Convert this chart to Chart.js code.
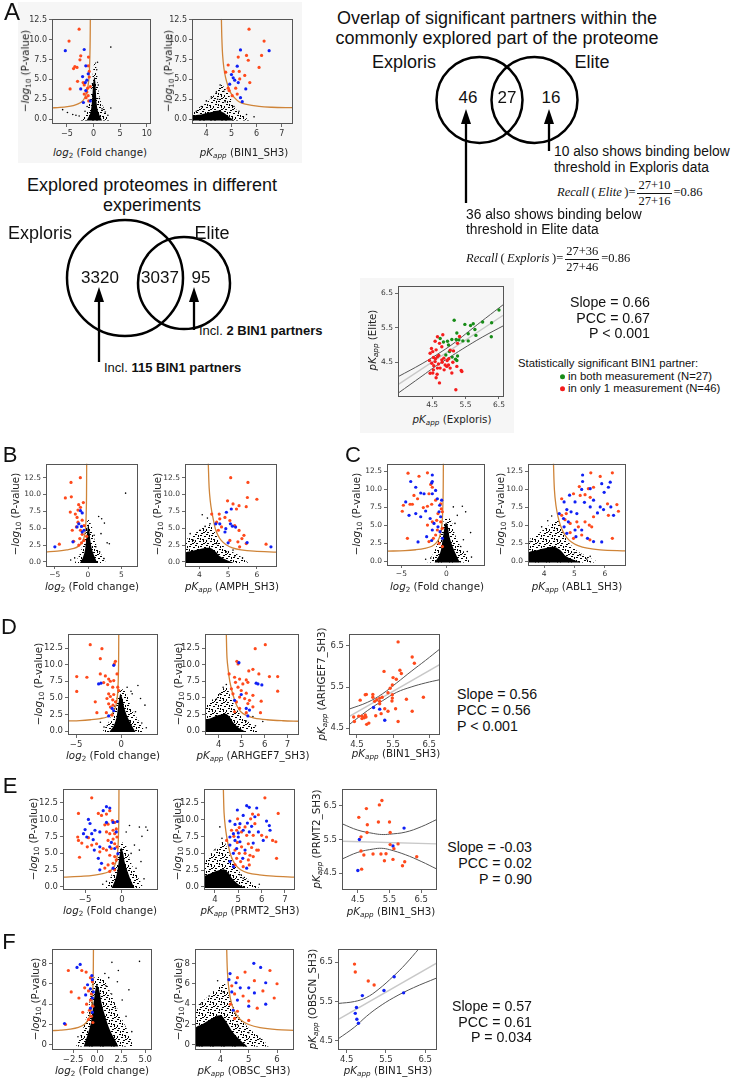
<!DOCTYPE html>
<html>
<head>
<meta charset="utf-8">
<script src="https://cdn.jsdelivr.net/npm/chart.js@4.4.0/dist/chart.umd.min.js"></script>
<style>
body { margin: 0; background: #fff; }
#fig { position: relative; width: 732px; height: 1088px; overflow: hidden; font-family: "Liberation Sans", Arial, sans-serif; color: #111; }
#fig canvas { position: absolute; }
.t { position: absolute; white-space: nowrap; line-height: 1; }
.m { font-family: "DejaVu Sans", sans-serif; color: #222; }
.s { font-family: "Liberation Serif", serif; }
.t sub { font-size: 70%; vertical-align: -0.3em; line-height: 0; }
.frac { display: inline-flex; flex-direction: column; vertical-align: middle; text-align: center; margin: 0 2px; }
.frac span:first-child { border-bottom: 1px solid #111; padding: 0 1px 1px; }
.frac span:last-child { padding-top: 1px; }
.dot { display: inline-block; width: 5px; height: 5px; border-radius: 50%; vertical-align: middle; margin: 0 3px 2px 0; }
.bg { position: absolute; background: #f6f6f6; }
</style>
</head>
<body>
<div id="fig"></div>
<script>
// ---------- shared ticks ----------
const volY = [0, 2.5, 5, 7.5, 10, 12.5];
const obscY = [0, 2, 4, 6, 8];
const corrTicks = [4.5, 5.5, 6.5];

// ---------- A: BIN1 ----------
const a1Orange = [[-2.7,11.3],[-4.6,9.8],[-2.4,7.95],[-2.55,7.45],[-3.5,6.6],[-3.75,6.35],[-3.1,6.5],[-0.95,7.8],[-1.0,6.7],[-0.8,6.0],[-3.0,4.75],[-1.95,4.6],[-1.75,4.3],[-4.4,3.8],[-1.1,3.9],[-1.25,3.4],[-1.0,2.95],[-1.4,2.7],[-0.9,2.3],[-1.75,3.15],[-0.8,5.3],[-0.6,4.1]];
const a1Blue = [[-5.3,8.6],[-1.75,8.75],[-1.45,6.7],[-2.05,5.35],[-1.25,4.9],[-2.4,3.8],[-1.55,4.6],[-1.0,5.7],[-1.9,2.1],[-0.6,2.3],[-1.45,3.6]];
const a1Black = [[3.25,9.05],[3.25,1.4],[0.75,7.15],[-5.8,1.2],[-4.9,0.85],[-3.9,0.6],[-2.7,0.4],[-3.3,0.5],[0.9,4.3],[1.1,2.6],[1.6,1.3],[2.2,0.9],[2.7,0.5],[-1.6,1.0],[-1.2,1.6],[0.6,6.2]];
const a1Core = [[-1.3,-0.15],[-0.9,0.3],[-0.55,0.9],[-0.35,1.8],[-0.2,3.0],[-0.1,4.2],[0.05,5.0],[0.2,5.3],[0.35,4.6],[0.45,3.4],[0.55,2.2],[0.8,1.1],[1.2,0.4],[1.6,-0.15]];
const a1Halo = [[-2.4,-0.15],[-1.6,0.6],[-0.9,1.8],[-0.5,3.5],[-0.2,5.2],[0.25,7.3],[0.7,5.6],[0.9,3.6],[1.5,2.0],[2.4,0.9],[3.0,-0.15]];
const a1Curve = [[-0.6,12.6],[-0.63,10],[-0.68,8],[-0.76,6.3],[-0.88,5.0],[-1.05,4.1],[-1.3,3.3],[-1.65,2.7],[-2.1,2.25],[-2.8,1.95],[-3.8,1.72],[-4.9,1.58],[-6.3,1.48],[-7.8,1.42]];

const a2Orange = [[5.7,11.3],[5.27,7.8],[4.87,6.8],[4.77,5.9],[5.07,6.0],[5.31,6.0],[5.6,8.0],[5.67,7.4],[5.53,5.5],[5.73,4.6],[5.33,5.05],[5.17,3.9],[5.03,2.95],[5.23,3.15],[4.91,3.6],[4.87,3.9],[6.3,9.8],[6.2,8.0],[6.1,6.5]];
const a2Blue = [[5.36,8.7],[5.23,6.65],[5.07,5.2],[5.27,4.6],[5.57,3.8],[5.36,2.7],[5.43,2.2],[4.93,4.4],[5.13,4.9],[5.0,5.6],[6.5,8.6]];
const a2Black = [[4.55,4.3],[4.7,3.5],[4.4,3.4],[4.2,2.8],[5.1,1.6],[5.3,1.0],[5.6,0.6],[5.9,0.3],[4.0,2.3],[3.8,1.6],[4.45,2.5],[4.75,2.2],[3.6,1.0]];
const a2Core = [[3.43,-0.15],[3.43,0.4],[3.8,0.6],[4.2,0.9],[4.5,1.1],[4.7,0.8],[4.9,0.3],[5.1,-0.15]];
const a2Halo = [[3.43,-0.15],[3.43,0.9],[3.9,1.8],[4.3,3.0],[4.6,4.3],[4.8,3.6],[5.0,2.4],[5.2,1.2],[5.5,0.4],[5.7,-0.15]];
const a2Curve = [[4.6,12.6],[4.62,10],[4.65,8],[4.7,6.4],[4.77,5.2],[4.86,4.2],[4.97,3.3],[5.12,2.7],[5.3,2.2],[5.55,1.9],[6.1,1.6],[6.6,1.5],[7.45,1.45]];

const a3Green = [[6.5,6.02],[6.28,5.65],[6.27,5.24],[6.01,5.67],[5.73,5.62],[5.65,5.57],[5.78,5.45],[5.58,5.33],[5.48,5.6],[5.24,5.35],[5.16,5.72],[5.22,5.16],[5.09,5.16],[4.99,5.0],[4.74,5.19],[4.84,5.09],[4.96,5.11],[5.02,4.81],[4.91,4.71],[5.2,4.59],[5.26,4.68],[5.81,5.28],[5.42,5.12],[5.58,5.12],[5.24,4.55],[5.3,5.15],[5.1,4.65]];
const a3Red = [[4.82,5.3],[4.66,5.24],[4.59,5.11],[4.79,4.95],[5.04,4.85],[5.14,4.83],[5.26,5.05],[4.52,4.81],[4.44,4.76],[4.54,4.64],[4.66,4.66],[4.59,4.52],[4.69,4.45],[4.79,4.57],[4.89,4.42],[4.99,4.42],[4.49,4.47],[4.54,4.28],[4.44,4.18],[4.66,4.33],[4.86,4.28],[5.04,4.33],[5.37,4.26],[4.62,4.86],[4.72,3.9],[4.94,4.38],[5.24,4.38],[4.74,4.33],[4.52,4.19],[5.09,4.19],[5.39,4.23],[5.21,3.7],[4.6,4.6],[4.7,4.7],[4.55,4.4],[4.8,4.5],[4.65,4.15],[5.0,4.6],[4.48,4.9],[4.72,5.05],[5.32,5.25],[4.95,4.55],[4.62,4.05],[4.85,4.62],[5.12,4.5],[4.42,4.55]];
const a3Fit = [[3.48,3.85],[6.65,5.88]];
const a3Upper = [[3.48,4.08],[4.2,4.46],[4.8,4.82],[5.2,5.09],[5.6,5.4],[6.1,5.78],[6.65,6.19]];
const a3Lower = [[3.48,3.6],[4.2,4.1],[4.6,4.38],[5.0,4.63],[5.4,4.88],[6.0,5.23],[6.65,5.57]];

const exploredCounts = [3320, 3037, 95];
const sigCounts = [46, 27, 16];

// ---------- B: AMPH ----------
const b1Orange = [[-1.15,12.5],[-2.55,11.8],[-3.4,9.5],[-2.5,9.66],[-0.7,8.8],[-1.4,8.5],[-1.13,8.1],[-1.5,7.7],[-2.66,7.4],[-1.9,7.1],[-1.64,6.6],[-0.87,6.2],[-1.5,5.9],[-1.74,5.2],[-0.6,5.4],[-1.13,4.7],[-0.87,4.1],[-1.23,3.46],[-0.6,3.2],[-0.97,2.83],[-1.38,2.5],[-4.3,2.63],[-2.15,3.07],[-2.36,4.7],[-0.2,3.8]];
const b1Blue = [[-1.13,7.6],[-0.87,7.27],[-1.38,5.66],[-0.97,5.27],[-0.6,4.7],[-0.87,4.44],[-2.26,2.98],[-4.97,2.24],[-1.64,5.2]];
const b1Black = [[5.64,10.2],[1.6,6.73],[2.05,6.4],[2.46,5.76],[2.87,2.83],[3.2,2.7],[0.92,3.95],[1.95,4.2],[1.18,2.24],[1.74,1.5],[-2.0,0.6],[-2.6,0.3],[2.4,0.5]];
const b1Core = [[-1.2,-0.15],[-0.8,0.6],[-0.5,1.5],[-0.3,3.0],[-0.12,4.5],[0.05,5.6],[0.22,4.6],[0.35,3.2],[0.6,1.9],[0.95,0.9],[1.4,-0.15]];
const b1Halo = [[-2.0,-0.15],[-1.3,1.0],[-0.8,2.6],[-0.4,4.5],[0.0,6.3],[0.6,5.2],[1.0,3.2],[1.6,1.8],[2.3,0.6],[2.7,-0.15]];
const b1Curve = [[-0.2,14.6],[-0.22,10],[-0.26,7.5],[-0.33,5.6],[-0.45,4.3],[-0.65,3.4],[-0.95,2.8],[-1.4,2.35],[-2.1,2.0],[-3.2,1.8],[-4.6,1.62],[-6.3,1.5]];

const b2Orange = [[5.09,12.5],[5.69,11.8],[5.67,9.56],[6.0,9.3],[4.98,9.07],[5.17,8.6],[5.38,8.34],[5.63,8.2],[5.29,7.85],[4.69,7.1],[4.89,6.6],[5.06,6.15],[4.71,6.4],[4.6,5.9],[4.77,5.2],[5.23,5.4],[5.38,4.68],[5.55,3.95],[5.48,3.46],[5.34,2.98],[5.06,3.2],[5.63,2.73],[6.32,2.63],[5.4,2.24],[4.43,7.1],[4.66,4.7]];
const b2Blue = [[5.11,7.85],[4.94,7.37],[5.08,5.66],[5.15,5.3],[4.71,5.66],[4.57,5.66],[4.92,4.93],[4.89,4.44],[5.26,5.17],[5.66,2.88],[6.49,2.24],[5.0,2.83]];
const b2Black = [[4.1,7.0],[4.28,6.5],[3.68,4.2],[4.02,4.7],[4.2,5.27],[4.37,5.66],[3.79,3.2],[4.6,2.73],[5.17,1.76],[5.5,0.6],[5.23,0.88],[4.94,1.5]];
const b2Core = [[3.5,-0.15],[3.5,1.3],[3.8,1.7],[4.1,2.0],[4.35,2.1],[4.55,1.6],[4.7,0.9],[4.95,0.3],[5.2,-0.15]];
const b2Halo = [[3.5,-0.15],[3.5,3.0],[3.8,4.1],[4.1,5.0],[4.35,5.5],[4.55,4.3],[4.72,2.9],[5.0,1.8],[5.4,0.9],[5.7,-0.15]];
const b2Curve = [[4.31,14.6],[4.34,11],[4.38,9],[4.43,7.5],[4.49,6.2],[4.55,5.0],[4.64,4.0],[4.76,3.2],[4.93,2.55],[5.15,2.1],[5.45,1.8],[5.9,1.6],[6.7,1.45]];

// ---------- C: ABL1 ----------
const c1Orange = [[-4.26,12.25],[-3.04,11.83],[-2.1,12.3],[-1.74,10.7],[-1.56,10.3],[-1.93,9.4],[-3.6,9.17],[-3.2,8.7],[-4.04,7.94],[-4.78,7.8],[-4.9,6.97],[-3.78,7.94],[-2.56,7.48],[-2.1,7.66],[-1.63,7.94],[-1.19,8.5],[-0.63,8.0],[-0.56,7.3],[-0.93,6.65],[-0.44,6.9],[-2.1,5.05],[-1.56,5.5],[-1.07,5.7],[-0.63,5.5],[-1.0,4.36],[-0.44,4.6],[-1.19,3.67],[-1.44,3.2],[-1.93,2.75],[-4.33,3.2],[-0.81,2.5],[-0.44,2.06]];
const c1Blue = [[-1.56,12.0],[-3.96,11.1],[-1.56,11.1],[-3.4,10.3],[-1.63,10.9],[-2.85,9.5],[-2.48,9.4],[-1.56,9.4],[-1.19,9.86],[-1.0,8.7],[-0.74,7.8],[-0.52,8.5],[-4.52,8.26],[-4.15,6.4],[-3.4,6.65],[-2.85,6.2],[-2.3,7.0],[-1.8,5.96],[-1.37,5.28],[-0.93,4.8],[-0.7,4.13],[-1.56,4.36],[-2.19,3.44],[-3.15,2.7],[-1.63,2.9],[-0.44,3.2],[-0.63,6.2],[-0.81,6.9]];
const c1Black = [[0.78,7.57],[1.78,7.66],[2.15,6.88],[1.22,6.4],[2.7,4.0],[1.6,2.06],[2.33,1.38],[-1.74,0.46],[0.96,5.28],[-2.3,0.3],[1.9,3.0],[2.8,0.6]];
const c1Core = [[-1.3,-0.15],[-0.85,0.7],[-0.6,1.6],[-0.42,3.0],[-0.25,4.4],[-0.05,5.4],[0.15,5.0],[0.32,3.6],[0.6,2.4],[0.95,1.3],[1.5,-0.15]];
const c1Halo = [[-2.1,-0.15],[-1.4,1.2],[-0.9,2.9],[-0.5,4.8],[-0.1,6.0],[0.5,5.8],[1.0,3.6],[1.6,2.0],[2.3,0.7],[2.6,-0.15]];
const c1Curve = [[-0.33,13.6],[-0.35,10],[-0.39,7.5],[-0.46,5.6],[-0.58,4.3],[-0.78,3.3],[-1.1,2.6],[-1.6,2.1],[-2.4,1.8],[-3.4,1.62],[-4.6,1.5],[-6.6,1.42]];

const c2Blue = [[5.27,12.0],[5.27,11.1],[6.18,11.0],[5.9,10.8],[6.12,10.3],[5.98,9.6],[5.52,10.1],[5.24,10.0],[4.84,9.2],[5.02,8.26],[4.66,8.26],[4.5,6.65],[4.75,7.2],[4.89,6.88],[5.08,6.65],[4.64,5.96],[4.8,5.5],[4.66,4.8],[5.02,4.36],[5.24,4.36],[4.75,3.9],[5.05,3.44],[5.43,3.2],[5.63,2.75],[5.9,2.7],[5.63,8.5],[5.52,7.57],[5.96,7.2],[5.76,6.74],[6.2,7.57],[6.29,6.4],[5.33,8.2],[5.85,7.57]];
const c2Orange = [[5.54,12.3],[5.85,11.8],[6.25,12.3],[5.16,10.4],[5.46,10.1],[5.63,10.3],[5.19,9.17],[5.35,9.27],[5.52,8.9],[4.58,8.7],[4.97,9.4],[6.09,8.0],[6.4,7.9],[6.45,6.97],[6.12,6.4],[4.58,6.4],[4.69,5.8],[4.86,5.28],[5.08,5.5],[5.35,5.5],[5.49,5.05],[5.57,4.8],[5.13,4.8],[4.86,4.0],[5.24,3.67],[4.97,3.2],[5.51,3.0],[6.25,3.2],[4.73,6.65],[5.63,6.2]];
const c2Black = [[4.25,6.3],[4.12,5.64],[3.92,4.8],[3.54,2.75],[5.41,0.32],[5.52,0.7],[5.0,1.2],[5.2,0.9]];
const c2Core = [[3.47,-0.15],[3.47,1.2],[3.8,1.6],[4.1,1.9],[4.35,2.0],[4.55,1.5],[4.7,0.8],[4.95,0.25],[5.2,-0.15]];
const c2Halo = [[3.47,-0.15],[3.47,2.8],[3.8,3.8],[4.15,5.0],[4.45,5.7],[4.6,4.2],[4.78,2.8],[5.05,1.6],[5.45,0.6],[5.8,-0.15]];
const c2Curve = [[4.31,13.6],[4.34,10],[4.39,7.8],[4.46,6.2],[4.54,5.0],[4.63,4.1],[4.74,3.35],[4.9,2.7],[5.12,2.2],[5.42,1.84],[5.85,1.6],[6.7,1.45]];

// ---------- D: ARHGEF7 ----------
const d1Orange = [[-3.43,13.0],[-2.13,12.4],[-2.31,10.9],[-0.63,10.5],[-0.75,10.1],[-4.93,8.2],[-3.8,8.1],[-2.31,8.6],[-1.75,8.3],[-1.38,7.83],[-1.19,7.5],[-0.82,7.6],[-0.45,8.6],[-1.94,7.3],[-1.49,7.0],[-0.93,6.6],[-4.93,5.96],[-1.38,5.6],[-0.82,5.5],[-1.19,5.2],[-1.57,4.9],[-0.93,4.7],[-0.63,4.4],[-2.87,4.4],[-1.38,4.1],[-0.9,3.9],[-1.19,3.6],[-1.64,2.76],[-2.69,2.76],[-1.0,2.4],[-0.26,6.1],[-0.37,6.6]];
const d1Blue = [[-0.82,9.9],[-2.5,7.1],[-2.24,7.2],[-1.0,3.4],[-0.82,3.05],[-1.38,2.27]];
const d1Black = [[1.87,6.85],[1.23,5.6],[2.16,4.9],[2.65,3.9],[1.6,2.9],[-2.3,1.33],[0.67,6.6],[1.1,6.0],[-1.9,0.6],[2.3,1.2],[2.8,0.5]];
const d1Core = [[-1.3,-0.15],[-0.85,0.7],[-0.55,1.8],[-0.38,3.2],[-0.25,4.5],[-0.08,5.6],[0.12,5.0],[0.32,3.7],[0.6,2.5],[1.0,1.3],[1.6,-0.15]];
const d1Halo = [[-2.1,-0.15],[-1.4,1.3],[-0.9,3.0],[-0.5,4.9],[-0.1,6.3],[0.5,6.0],[1.0,4.0],[1.6,2.3],[2.3,0.8],[2.6,-0.15]];
const d1Curve = [[-0.26,14.6],[-0.28,10],[-0.32,7.5],[-0.39,5.6],[-0.5,4.3],[-0.7,3.3],[-1.0,2.6],[-1.5,2.15],[-2.3,1.88],[-3.4,1.7],[-4.6,1.58],[-5.9,1.52]];

const d2Orange = [[5.59,12.4],[6.03,13.0],[4.79,10.5],[4.84,10.1],[5.49,9.3],[5.75,8.6],[6.21,8.2],[6.57,8.2],[4.45,8.6],[4.69,8.1],[4.91,7.83],[5.2,7.7],[4.73,7.34],[5.05,7.1],[5.27,7.34],[4.55,6.35],[4.84,6.6],[4.98,6.1],[4.62,5.6],[5.2,5.7],[5.49,5.37],[4.91,5.12],[5.13,4.88],[5.34,4.63],[4.77,4.38],[5.27,4.14],[5.85,4.5],[6.57,6.0],[5.49,3.64],[4.91,3.4],[4.69,2.9],[5.82,2.76],[5.2,2.76],[5.31,9.06]];
const d2Blue = [[4.88,10.3],[5.63,7.2],[5.71,7.1],[5.88,6.95],[4.98,5.5],[4.69,4.63],[5.2,3.4],[5.34,3.15],[5.27,2.27]];
const d2Black = [[4.33,7.0],[4.19,6.6],[5.49,2.17],[5.92,1.43],[4.05,5.6],[3.9,4.8],[5.2,1.5],[5.6,0.8]];
const d2Core = [[3.4,-0.15],[3.4,1.5],[3.7,2.0],[4.0,2.4],[4.3,2.6],[4.5,2.0],[4.65,1.2],[4.9,0.4],[5.2,-0.15]];
const d2Halo = [[3.4,-0.15],[3.45,3.6],[3.8,5.0],[4.1,6.2],[4.35,6.5],[4.55,4.8],[4.78,3.3],[5.05,2.0],[5.45,1.0],[5.8,-0.15]];
const d2Curve = [[4.33,14.6],[4.36,11],[4.42,9],[4.48,7.5],[4.57,6.1],[4.66,5.0],[4.79,3.8],[4.95,2.95],[5.2,2.35],[5.55,1.95],[6.1,1.7],[6.8,1.55],[7.5,1.47]];

const d3Orange = [[5.64,6.6],[6.03,6.23],[6.09,6.08],[5.25,5.88],[5.69,5.91],[5.73,5.83],[5.5,5.73],[5.59,5.69],[5.48,5.55],[5.42,5.47],[5.36,5.36],[5.48,5.31],[5.48,5.23],[5.47,5.16],[4.94,5.32],[4.94,5.25],[4.73,5.31],[5.13,5.23],[5.05,5.19],[4.99,5.15],[5.13,5.15],[5.13,5.09],[5.2,5.25],[5.87,5.2],[6.34,5.25],[5.57,4.97],[6.03,4.91],[5.27,4.97],[5.36,4.91],[5.17,4.85],[5.02,4.8],[4.75,4.77],[4.7,4.75],[4.77,4.59],[5.64,4.66],[4.64,4.79],[4.59,5.18],[4.76,5.32],[4.43,4.66],[4.55,4.79],[4.64,4.73],[4.73,4.82],[4.83,4.62],[4.41,4.77]];
const d3Blue = [[4.96,5.0],[5.13,4.96],[5.27,4.69]];
const d3Fit = [[4.28,4.78],[6.8,6.05]];
const d3Upper = [[4.28,4.96],[4.8,5.13],[5.2,5.33],[5.6,5.6],[6.0,5.88],[6.4,6.15],[6.8,6.43]];
const d3Lower = [[4.28,4.58],[4.8,4.93],[5.2,5.16],[5.6,5.37],[6.0,5.5],[6.4,5.6],[6.8,5.68]];

// ---------- E: PRMT2 ----------
const e1Orange = [[-4.1,13.2],[-5.9,10.9],[-3.2,10.9],[-2.77,10.6],[-2.1,10.8],[-1.65,11.3],[-1.3,9.85],[-2.32,9.2],[-1.88,9.3],[-0.98,9.56],[-0.76,8.6],[-1.2,8.4],[-2.1,8.15],[-1.65,7.9],[-0.98,7.9],[-0.67,7.4],[-1.2,7.1],[-1.88,6.9],[-0.98,6.4],[-0.67,5.95],[-1.43,5.7],[-2.1,5.46],[-2.54,5.7],[-3.0,5.2],[-1.65,4.7],[-0.98,4.5],[-0.76,4.0],[-1.2,3.5],[-1.88,3.27],[-2.32,2.8],[-0.98,2.54],[-1.65,2.3],[-5.9,6.9],[-5.45,6.5],[-6.0,7.4],[-5.76,4.4],[-4.1,6.2],[-3.44,6.4],[-4.7,5.95],[-4.55,7.3]];
const e1Blue = [[-2.1,11.9],[-1.65,11.7],[-2.54,11.3],[-4.55,10.0],[-4.33,9.4],[-5.0,8.5],[-5.22,7.9],[-3.66,8.4],[-3.0,8.15],[-4.77,7.4],[-3.9,7.0],[-2.1,9.56],[-1.2,9.56],[-0.62,9.7],[-0.76,8.15],[-1.43,6.6],[-3.0,5.95],[-3.75,5.46],[-1.65,5.95],[-3.2,4.24],[-2.77,3.5],[-3.0,2.54],[-1.2,2.78],[-0.54,4.93],[-4.1,7.9],[-0.98,5.7]];
const e1Black = [[1.03,9.1],[2.37,8.87],[3.26,8.87],[3.48,8.4],[2.72,7.5],[0.58,8.15],[1.7,6.2],[2.37,5.46],[1.25,4.97],[2.59,3.76],[1.92,2.78],[0.8,1.56],[-2.1,0.83],[-2.6,0.4],[3.0,1.2]];
const e1Core = [[-1.4,-0.15],[-1.0,0.8],[-0.7,1.9],[-0.48,3.4],[-0.3,4.7],[-0.1,5.8],[0.15,5.1],[0.38,3.7],[0.7,2.5],[1.1,1.3],[1.7,-0.15]];
const e1Halo = [[-2.4,-0.15],[-1.6,1.3],[-1.0,3.0],[-0.6,5.0],[-0.1,6.6],[0.6,6.0],[1.1,4.0],[1.8,2.2],[2.5,0.8],[2.9,-0.15]];
const e1Curve = [[-0.4,14.5],[-0.42,10],[-0.47,7.5],[-0.55,5.6],[-0.68,4.3],[-0.9,3.4],[-1.25,2.7],[-1.8,2.25],[-2.6,1.97],[-3.7,1.76],[-5.2,1.6],[-8,1.46]];

const e2Blue = [[5.36,12.05],[5.47,11.8],[5.79,11.7],[4.96,11.4],[5.21,10.6],[5.71,10.4],[4.64,9.76],[4.86,9.27],[5.07,9.37],[5.39,9.46],[5.57,8.98],[4.79,7.9],[4.64,7.4],[5.0,8.0],[5.21,8.4],[5.47,8.15],[5.86,8.15],[6.21,9.76],[6.33,9.1],[6.36,8.4],[4.86,6.9],[5.07,6.7],[4.64,6.2],[4.93,5.7],[5.29,5.46],[5.64,6.5],[6.07,6.9],[4.79,4.98],[5.19,4.24],[4.64,3.76],[5.36,2.78],[4.79,3.0],[5.0,7.4]];
const e2Orange = [[6.14,13.2],[5.61,10.8],[5.86,10.7],[5.53,10.1],[5.71,9.37],[4.97,10.1],[5.04,8.8],[5.29,8.9],[4.93,8.4],[5.14,8.15],[4.71,8.4],[4.81,7.5],[5.36,7.65],[5.64,7.65],[4.96,6.6],[5.14,5.95],[5.43,6.4],[5.57,5.85],[5.79,5.46],[6.21,7.4],[6.47,6.9],[6.61,6.7],[6.71,10.9],[6.64,4.24],[6.0,7.65],[4.86,5.46],[5.04,4.98],[5.29,4.98],[5.5,4.7],[4.93,4.24],[5.1,3.76],[5.43,4.0],[5.64,4.5],[4.86,3.27],[5.21,3.0],[5.47,3.27],[5.86,5.46],[4.5,6.9]];
const e2Black = [[4.21,8.9],[5.07,1.8],[5.21,1.3],[4.3,7.2],[4.0,5.5],[5.4,0.8],[5.9,0.4]];
const e2Core = [[3.53,-0.15],[3.53,1.5],[3.8,2.0],[4.1,2.4],[4.4,2.6],[4.6,2.0],[4.75,1.2],[5.0,0.4],[5.3,-0.15]];
const e2Halo = [[3.53,-0.15],[3.55,3.6],[3.9,5.2],[4.2,6.2],[4.38,6.8],[4.55,5.4],[4.8,3.5],[5.1,2.0],[5.5,0.9],[5.9,-0.15]];
const e2Curve = [[4.36,14.5],[4.39,11],[4.44,9],[4.5,7.5],[4.57,6.2],[4.65,5.0],[4.76,4.0],[4.9,3.2],[5.1,2.55],[5.4,2.1],[5.9,1.8],[6.5,1.6],[7.43,1.46]];

const e3Orange = [[5.26,6.66],[4.77,6.42],[5.18,6.53],[5.15,6.02],[5.5,6.02],[4.8,5.94],[4.79,5.71],[5.52,5.71],[5.52,5.35],[5.64,5.23],[5.77,5.37],[4.6,5.16],[4.69,5.04],[4.98,5.07],[5.23,5.07],[5.39,5.08],[5.34,4.87],[5.61,4.91],[5.98,4.84],[5.91,4.72],[6.36,4.99],[4.62,4.62],[4.53,6.16],[4.6,5.58]];
const e3Blue = [[4.55,5.5],[5.61,5.31],[5.96,5.84],[4.5,4.58]];
const e3Fit = [[4.0,5.45],[7.0,5.37]];
const e3Upper = [[4.0,5.97],[4.5,5.78],[5.0,5.68],[5.25,5.65],[5.5,5.66],[6.0,5.72],[6.5,5.88],[7.0,6.1]];
const e3Lower = [[4.0,4.92],[4.5,5.12],[5.0,5.22],[5.25,5.24],[5.5,5.2],[6.0,5.05],[6.5,4.85],[7.0,4.62]];

// ---------- F: OBSC ----------
const f1Orange = [[-3.0,7.3],[-1.6,7.3],[-1.15,7.15],[-0.7,6.6],[-0.5,6.2],[-1.3,5.6],[-0.9,5.3],[-0.6,5.0],[-1.9,4.6],[-0.7,4.4],[-1.1,4.0],[-0.45,3.8],[-0.8,3.4],[-1.5,3.2],[-0.6,2.8],[-0.9,2.5],[-2.7,5.2],[-0.45,2.2],[-3.3,2.0]];
const f1Blue = [[-2.1,7.6],[-1.77,7.9],[-0.55,6.8],[-0.5,6.4],[-1.0,5.9],[-0.7,5.5],[-0.4,5.2],[-1.2,4.9],[-0.5,4.6],[-0.7,3.6],[-3.4,2.1],[-0.5,3.2]];
const f1Black = [[1.53,8.1],[4.4,8.2],[0.8,7.0],[1.2,6.6],[2.1,6.2],[3.3,5.4],[1.5,5.0],[2.6,4.4],[1.9,3.6],[3.0,2.8],[0.9,5.8],[2.2,7.3],[-2.0,0.8],[3.6,1.3]];
const f1Core = [[-1.4,-0.15],[-1.0,1.0],[-0.65,2.2],[-0.45,3.6],[-0.28,4.8],[-0.05,5.9],[0.2,5.4],[0.45,4.1],[0.8,2.9],[1.3,1.5],[1.9,0.4],[2.2,-0.15]];
const f1Halo = [[-2.2,-0.15],[-1.5,1.5],[-0.9,3.6],[-0.3,6.6],[0.7,6.4],[1.6,4.6],[2.6,2.5],[3.4,0.9],[3.7,-0.15]];
const f1Curve = [[-0.39,9.4],[-0.41,7],[-0.46,5.2],[-0.55,4.0],[-0.7,3.1],[-0.95,2.45],[-1.35,2.0],[-1.95,1.72],[-2.8,1.55],[-3.8,1.45],[-4.7,1.4]];

const f2Orange = [[4.87,7.15],[5.75,7.3],[4.6,6.6],[4.4,5.8],[5.2,6.3],[4.5,5.0],[4.8,4.8],[5.0,4.3],[4.35,4.0],[5.5,5.3],[5.9,4.6],[4.6,3.3],[5.3,3.6],[4.5,2.6],[6.0,6.0],[5.0,2.4]];
const f2Blue = [[5.18,8.0],[5.42,7.6],[4.34,7.0],[4.3,6.4],[4.55,6.1],[4.7,5.6],[5.0,5.6],[4.4,5.2],[5.2,5.1],[5.6,6.1],[4.6,4.4],[5.0,3.8],[4.45,3.4],[5.6,4.0]];
const f2Black = [[3.9,6.3],[4.1,5.2],[3.6,4.8],[4.6,2.0],[5.0,1.2],[5.4,0.6],[3.3,4.0]];
const f2Core = [[3.1,-0.15],[3.1,1.6],[3.4,2.1],[3.7,2.6],[4.0,2.9],[4.2,2.3],[4.4,1.4],[4.65,0.6],[4.95,-0.15]];
const f2Halo = [[3.1,-0.15],[3.1,3.4],[3.5,4.6],[3.9,5.6],[4.15,6.0],[4.35,4.4],[4.7,2.6],[5.1,1.4],[5.5,0.5],[5.7,-0.15]];
const f2Curve = [[4.22,9.4],[4.25,7],[4.31,5.2],[4.4,4.0],[4.53,3.1],[4.72,2.45],[5.0,2.0],[5.4,1.7],[6.0,1.5],[6.6,1.42]];

const f3Orange = [[4.7,6.45],[4.72,6.25],[5.05,6.02],[5.2,5.92]];
const f3Blue = [[5.71,6.13],[5.45,5.78],[4.9,5.65],[4.75,5.35],[4.72,5.2],[4.76,5.05],[4.8,4.95],[5.95,5.72]];
const f3Fit = [[4.28,5.04],[6.8,6.48]];
const f3Upper = [[4.28,5.45],[4.7,5.5],[5.0,5.6],[5.3,5.8],[5.7,6.15],[6.0,6.45],[6.35,6.85]];
const f3Lower = [[4.28,4.55],[4.7,4.85],[5.0,5.12],[5.3,5.35],[5.7,5.6],[6.2,5.85],[6.8,6.1]];

// ---------- drawing ----------
const ORANGE = '#ff4a1c', BLUE = '#1020f5', CURVE = '#cf8438', GREEN = '#178c17', RED = '#f51d1d';
const PL = 34, PT = 6, PR = 10, PB = 16;
const fig = document.getElementById('fig');

const pts = a => a.map(p => ({x: p[0], y: p[1]}));
const neg = v => (v < 0 ? '\u2212' : '') + Math.abs(v);
const fix1 = v => (v < 0 ? '\u2212' : '') + Math.abs(v).toFixed(1);

// irregular speckle tile for the thinner part of the background cloud
const tile = document.createElement('canvas');
tile.width = 11; tile.height = 11;
(function () {
    const g = tile.getContext('2d');
    g.fillStyle = '#000';
    [[0,0],[5,1],[9,2],[2,4],[7,5],[4,7],[10,8],[1,9],[6,10],[8,9]].forEach(p => g.fillRect(p[0], p[1], 2, 1));
    [[3,1],[8,6],[0,6],[5,4]].forEach(p => g.fillRect(p[0], p[1], 1, 2));
})();
const speckle = c => c.chart.ctx.createPattern(tile, 'repeat');

const frame = {
    id: 'frame',
    afterDatasetsDraw(chart) {
        const a = chart.chartArea, g = chart.ctx;
        g.save();
        g.strokeStyle = '#555';
        g.lineWidth = 1;
        g.strokeRect(Math.round(a.left) + 0.5, Math.round(a.top) + 0.5, Math.round(a.right - a.left) - 1, Math.round(a.bottom - a.top) - 1);
        g.restore();
    }
};

function dots(arr, color, r, order) {
    return {data: pts(arr), backgroundColor: color, borderWidth: 0, pointRadius: r, order};
}
function line(arr, color, w, order, tension) {
    return {type: 'line', data: pts(arr), borderColor: color, borderWidth: w, pointRadius: 0, fill: false, tension: tension || 0, order};
}
function area(arr, bg, order) {
    return {type: 'line', data: pts(arr), borderColor: 'rgba(0,0,0,0)', borderWidth: 0, pointRadius: 0, fill: 'shape', backgroundColor: bg, tension: 0.3, order};
}

function makeChart(box, xr, yr, xt, yt, fx, fy, fs, datasets) {
    const [bx, by, bw, bh] = box;
    const w = bw + PL + PR, h = bh + PT + PB;
    const cv = document.createElement('canvas');
    cv.width = w; cv.height = h;
    cv.style.left = (bx - PL) + 'px';
    cv.style.top = (by - PT) + 'px';
    cv.style.width = w + 'px';
    cv.style.height = h + 'px';
    fig.appendChild(cv);

    const axis = (r, t, f, fit) => ({
        type: 'linear', min: r[0], max: r[1],
        afterBuildTicks: s => { s.ticks = t.map(v => ({value: v})); },
        afterFit: fit,
        border: {display: false},
        grid: {drawOnChartArea: false, tickLength: 3, tickColor: '#444', lineWidth: 0.8},
        ticks: {padding: 2, color: '#333', font: {family: 'DejaVu Sans', size: fs}, autoSkip: false, maxRotation: 0, callback: v => f(v)}
    });

    new Chart(cv, {
        type: 'scatter',
        data: {datasets},
        options: {
            responsive: false,
            animation: false,
            devicePixelRatio: 1,
            events: [],
            layout: {padding: {top: PT, right: PR, left: 0, bottom: 0}},
            plugins: {legend: {display: false}, tooltip: {enabled: false}},
            scales: {
                x: axis(xr, xt, fx, s => { s.height = PB; }),
                y: axis(yr, yt, fy, s => { s.width = PL; })
            }
        },
        plugins: [frame]
    });
}

function volcano(box, xr, yr, xt, yt, fx, fy, fs, d) {
    makeChart(box, xr, yr, xt, yt, fx, fy, fs, [
        dots(d.blue, BLUE, 1.6, 0),
        dots(d.orange, ORANGE, 1.6, 1),
        line(d.curve, CURVE, 1.3, 2, 0.35),
        dots(d.black, '#000', 0.8, 3),
        area(d.core, '#000', 4),
        area(d.halo, speckle, 5)
    ]);
}

function corr(box, xr, yr, fs, d) {
    makeChart(box, xr, yr, corrTicks, corrTicks, fix1, fix1, fs, [
        dots(d.a, d.ca, 1.7, 0),
        dots(d.b, d.cb, 1.7, 1),
        line(d.upper, '#555', 1, 2, 0.4),
        line(d.lower, '#555', 1, 2, 0.4),
        line(d.fit, '#c8c8c8', 1.4, 3)
    ]);
}

function label(html, x, y, size, opt) {
    opt = opt || {};
    const el = document.createElement('div');
    el.className = 't' + (opt.cls ? ' ' + opt.cls : '');
    el.innerHTML = html;
    el.style.left = x + 'px';
    el.style.top = y + 'px';
    el.style.fontSize = size + 'px';
    const ax = {l: '0', c: '-50%', r: '-100%'}[opt.align || 'c'];
    el.style.transform = 'translate(' + ax + ',-50%)' + (opt.rot ? ' rotate(-90deg)' : '');
    fig.appendChild(el);
}

function bgRect(x, y, w, h) {
    const el = document.createElement('div');
    el.className = 'bg';
    Object.assign(el.style, {left: x + 'px', top: y + 'px', width: w + 'px', height: h + 'px'});
    fig.appendChild(el);
}

bgRect(18, 2, 284, 161);
bgRect(360, 278, 154, 155);

// Venn outlines and arrows
fig.insertAdjacentHTML('beforeend', `
<svg width="732" height="1088" style="position:absolute;left:0;top:0">
  <g fill="none" stroke="#000" stroke-width="2.5">
    <circle cx="479.5" cy="100" r="43"/>
    <circle cx="534.5" cy="100" r="43"/>
    <circle cx="125" cy="278" r="58"/>
    <circle cx="184" cy="283" r="46"/>
  </g>
  <g stroke="#000" stroke-width="2.3">
    <line x1="466" y1="122" x2="466" y2="203"/>
    <line x1="549" y1="122" x2="549" y2="151"/>
    <line x1="99" y1="300" x2="99" y2="362"/>
    <line x1="194" y1="300" x2="194" y2="330"/>
  </g>
  <g fill="#000">
    <polygon points="466,109 461,124 471,124"/>
    <polygon points="549,109 544,124 554,124"/>
    <polygon points="99,287 94,302 104,302"/>
    <polygon points="194,287 189,302 199,302"/>
  </g>
</svg>`);

const nlog = '&minus;<i>log</i><sub>10</sub> (P-value)';
const lfc = '<i>log</i><sub>2</sub> (Fold change)';
const pk = s => '<i>pK</i><sub><i>app</i></sub> (' + s + ')';

// A
volcano([52, 18, 99, 106], [-7.8, 10.8], [-0.6, 12.6], [-5, 0, 5, 10], volY, neg, fix1, 8,
    {orange: a1Orange, blue: a1Blue, black: a1Black, core: a1Core, halo: a1Halo, curve: a1Curve});
volcano([192, 18, 101, 106], [3.43, 7.45], [-0.6, 12.6], [4, 5, 6, 7], volY, String, fix1, 8,
    {orange: a2Orange, blue: a2Blue, black: a2Black, core: a2Core, halo: a2Halo, curve: a2Curve});
corr([398, 285, 106, 111], [3.48, 6.65], [3.52, 6.73], 7.5,
    {a: a3Red, ca: RED, b: a3Green, cb: GREEN, fit: a3Fit, upper: a3Upper, lower: a3Lower});

// B
volcano([46, 463, 92, 103], [-6.3, 7.5], [-0.6, 14.6], [-5, 0, 5], volY, neg, fix1, 7.5,
    {orange: b1Orange, blue: b1Blue, black: b1Black, core: b1Core, halo: b1Halo, curve: b1Curve});
volcano([185, 463, 92, 103], [3.5, 6.7], [-0.6, 14.6], [4, 5, 6], volY, String, fix1, 7.5,
    {orange: b2Orange, blue: b2Blue, black: b2Black, core: b2Core, halo: b2Halo, curve: b2Curve});

// C
volcano([387, 463, 98, 102], [-6.6, 4.3], [-0.5, 13.6], [-5, 0], volY, neg, fix1, 7.5,
    {orange: c1Orange, blue: c1Blue, black: c1Black, core: c1Core, halo: c1Halo, curve: c1Curve});
volcano([528, 463, 98, 102], [3.47, 6.7], [-0.5, 13.6], [4, 5, 6], volY, String, fix1, 7.5,
    {orange: c2Orange, blue: c2Blue, black: c2Black, core: c2Core, halo: c2Halo, curve: c2Curve});

// D
volcano([68, 633, 90, 102], [-5.9, 4.1], [-0.6, 14.6], [-5, 0], volY, neg, fix1, 8.5,
    {orange: d1Orange, blue: d1Blue, black: d1Black, core: d1Core, halo: d1Halo, curve: d1Curve});
volcano([205, 633, 94, 102], [3.4, 7.5], [-0.6, 14.6], [4, 5, 6, 7], volY, String, fix1, 8.5,
    {orange: d2Orange, blue: d2Blue, black: d2Black, core: d2Core, halo: d2Halo, curve: d2Curve});
corr([349, 633, 91, 102], [4.28, 6.8], [4.33, 6.79], 8.5,
    {a: d3Orange, ca: ORANGE, b: d3Blue, cb: BLUE, fit: d3Fit, upper: d3Upper, lower: d3Lower});

// E
volcano([63, 788, 95, 102], [-8, 4.9], [-0.45, 14.5], [-5, 0], volY, neg, fix1, 8.5,
    {orange: e1Orange, blue: e1Blue, black: e1Black, core: e1Core, halo: e1Halo, curve: e1Curve});
volcano([204, 788, 91, 102], [3.53, 7.43], [-0.45, 14.5], [4, 5, 6, 7], volY, String, fix1, 8.5,
    {orange: e2Orange, blue: e2Blue, black: e2Black, core: e2Core, halo: e2Halo, curve: e2Curve});
corr([342, 788, 95, 102], [4.0, 7.0], [4.0, 7.0], 8.5,
    {a: e3Orange, ca: ORANGE, b: e3Blue, cb: BLUE, fit: e3Fit, upper: e3Upper, lower: e3Lower});

// F
volcano([52, 948, 100, 102], [-4.7, 5.7], [-0.5, 9.4], [-2.5, 0, 2.5, 5], obscY, fix1, String, 8.5,
    {orange: f1Orange, blue: f1Blue, black: f1Black, core: f1Core, halo: f1Halo, curve: f1Curve});
volcano([195, 948, 99, 102], [3.1, 6.6], [-0.5, 9.4], [4, 5, 6], obscY, String, String, 8.5,
    {orange: f2Orange, blue: f2Blue, black: f2Black, core: f2Core, halo: f2Halo, curve: f2Curve});
corr([338, 948, 99, 102], [4.28, 6.8], [4.27, 6.83], 8.5,
    {a: f3Orange, ca: ORANGE, b: f3Blue, cb: BLUE, fit: f3Fit, upper: f3Upper, lower: f3Lower});

// ---------- text ----------
const M = {cls: 'm'}, MR = {cls: 'm', rot: true};

// panel letters
label('A', 12, 12, 24);
label('B', 10, 455, 22);
label('C', 353, 455, 22);
label('D', 9, 627, 22);
label('E', 10, 786, 22);
label('F', 9, 942, 22);

// axis titles
label(nlog, 25, 71, 10.3, MR);       label(lfc, 100, 152, 10.3, M);
label(nlog, 168, 71, 10.3, MR);      label(pk('BIN1_SH3'), 244, 152, 10.3, M);
label(pk('Elite'), 372, 340, 10.3, MR); label(pk('Exploris'), 452, 419, 10.3, M);

label(nlog, 15, 514, 10.3, MR);      label(lfc, 92, 586, 10.3, M);
label(nlog, 157, 514, 10.3, MR);     label(pk('AMPH_SH3'), 232, 586, 10.3, M);
label(nlog, 356, 514, 10.3, MR);     label(lfc, 437, 586, 10.3, M);
label(nlog, 500, 514, 10.3, MR);     label(pk('ABL1_SH3'), 577, 586, 10.3, M);

label(nlog, 38, 684, 10.3, MR);      label(lfc, 113, 755, 10.3, M);
label(nlog, 178, 684, 10.3, MR);     label(pk('ARHGEF7_SH3'), 253, 755, 10.3, M);
label(pk('ARHGEF7_SH3'), 321, 684, 10.3, MR); label(pk('BIN1_SH3'), 396, 753, 10.3, M);

label(nlog, 33, 839, 10.3, MR);      label(lfc, 110, 910, 10.3, M);
label(nlog, 177, 839, 10.3, MR);     label(pk('PRMT2_SH3'), 250, 910, 10.3, M);
label(pk('PRMT2_SH3'), 316, 839, 10.3, MR); label(pk('BIN1_SH3'), 391, 911, 10.3, M);

label(nlog, 35, 999, 10.3, MR);      label(lfc, 102, 1070, 10.3, M);
label(nlog, 178, 999, 10.3, MR);     label(pk('OBSC_SH3'), 244, 1070, 10.3, M);
label(pk('OBSCN_SH3'), 312, 999, 10.3, MR); label(pk('BIN1_SH3'), 388, 1070, 10.3, M);

// top-right Venn
label('Overlap of significant partners within the', 497, 18, 18);
label('commonly explored part of the proteome', 497, 38, 18);
label('Exploris', 404, 62, 18);
label('Elite', 592, 62, 18);
label(String(sigCounts[0]), 468, 97, 17);
label(String(sigCounts[1]), 507, 97, 17);
label(String(sigCounts[2]), 551, 97, 17);
label('10 also shows binding below', 554, 152, 13.8, {align: 'l'});
label('threshold in Exploris data', 554, 168, 13.8, {align: 'l'});
label('<i>Recall</i>&thinsp;(&thinsp;<i>Elite</i>&thinsp;)=<span class="frac"><span>27+10</span><span>27+16</span></span>=0.86', 557, 193, 12.5, {align: 'l', cls: 's'});
label('36 also shows binding below', 466, 215, 13.8, {align: 'l'});
label('threshold in Elite data', 466, 230, 13.8, {align: 'l'});
label('<i>Recall</i>&thinsp;(&thinsp;<i>Exploris</i>&thinsp;)=<span class="frac"><span>27+36</span><span>27+46</span></span>=0.86', 466, 259, 12.5, {align: 'l', cls: 's'});

// left Venn
label('Explored proteomes in different', 152, 185, 18);
label('experiments', 152, 205, 18);
label('Exploris', 40, 233, 18);
label('Elite', 212, 233, 18);
label(String(exploredCounts[0]), 100, 277, 17);
label(String(exploredCounts[1]), 160, 277, 17);
label(String(exploredCounts[2]), 201, 277, 17);
label('Incl. <b>2 BIN1 partners</b>', 199, 330, 13, {align: 'l'});
label('Incl. <b>115 BIN1 partners</b>', 104, 367, 13, {align: 'l'});

// statistics
label('Slope = 0.66', 650, 302, 14.2, {align: 'r'});
label('PCC = 0.67', 650, 318, 14.2, {align: 'r'});
label('P &lt; 0.001', 650, 333, 14.2, {align: 'r'});
label('Statistically significant BIN1 partner:', 518, 364, 11.3, {align: 'l'});
label('<span class="dot" style="background:' + GREEN + '"></span>in both measurement (N=27)', 560, 377, 11.3, {align: 'l'});
label('<span class="dot" style="background:' + RED + '"></span>in only 1 measurement (N=46)', 560, 389, 11.3, {align: 'l'});

label('Slope = 0.56', 457, 694, 14.2, {align: 'l'});
label('PCC = 0.56', 457, 710, 14.2, {align: 'l'});
label('P &lt; 0.001', 457, 726, 14.2, {align: 'l'});

label('Slope = -0.03', 532, 847, 14.2, {align: 'r'});
label('PCC = 0.02', 532, 863, 14.2, {align: 'r'});
label('P = 0.90', 532, 879, 14.2, {align: 'r'});

label('Slope = 0.57', 532, 1006, 14.2, {align: 'r'});
label('PCC = 0.61', 532, 1022, 14.2, {align: 'r'});
label('P = 0.034', 532, 1037, 14.2, {align: 'r'});
</script>
</body>
</html>
